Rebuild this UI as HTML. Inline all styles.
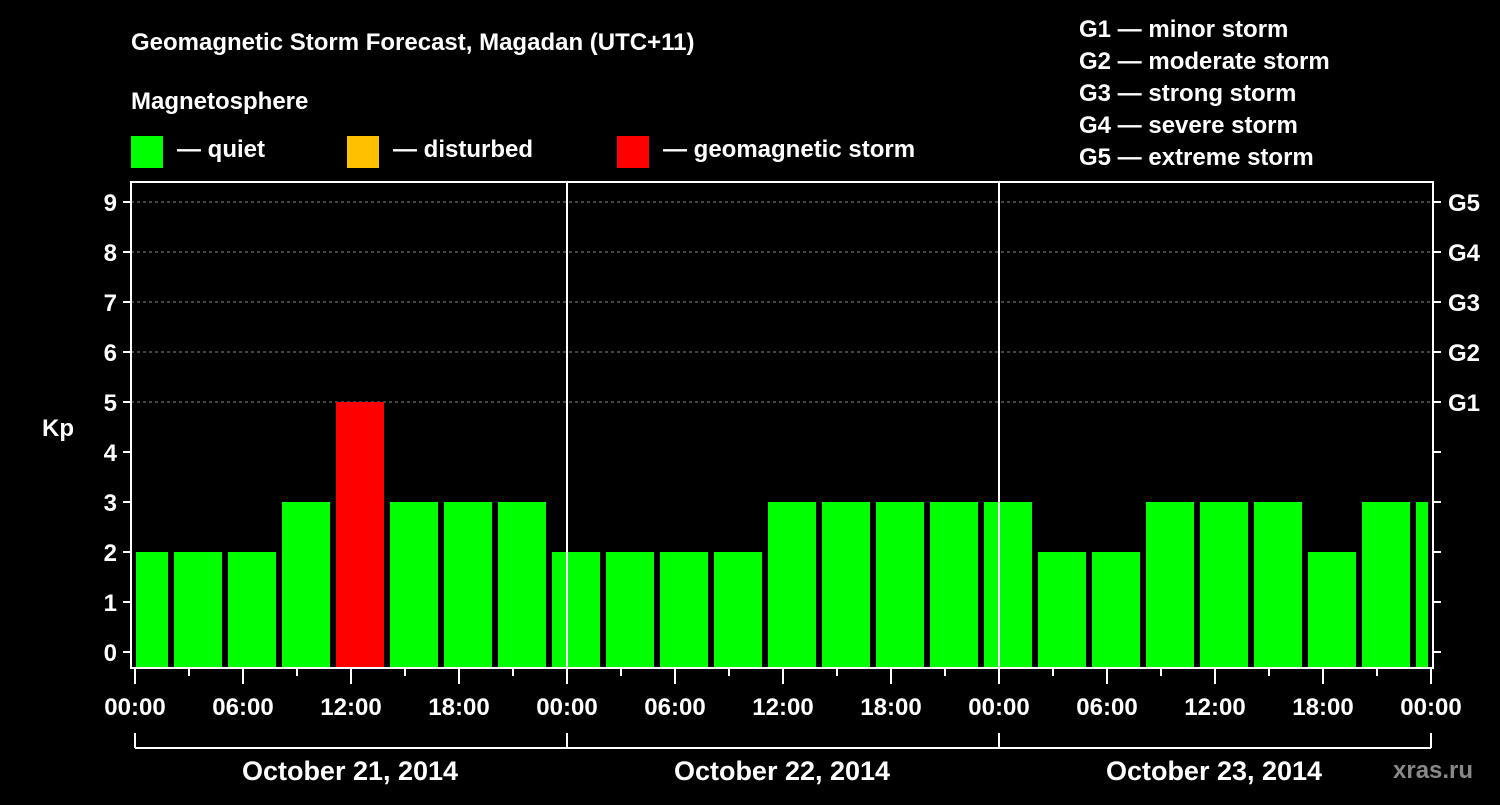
<!DOCTYPE html>
<html><head><meta charset="utf-8"><style>
body{margin:0;background:#000;width:1500px;height:800px;overflow:hidden}
svg text{font-family:"Liberation Sans",Arial,sans-serif;font-weight:bold;fill:#fff}
</style></head><body>
<svg id="c" width="1500" height="800">
<text x="131" y="50" font-size="24">Geomagnetic Storm Forecast, Magadan (UTC+11)</text>
<text x="131" y="109" font-size="24">Magnetosphere</text>
<rect x="131" y="136" width="32" height="32" fill="#00ff00"/>
<text x="177" y="157" font-size="24">— quiet</text>
<rect x="347" y="136" width="32" height="32" fill="#ffc000"/>
<text x="393" y="157" font-size="24">— disturbed</text>
<rect x="617" y="136" width="32" height="32" fill="#ff0000"/>
<text x="663" y="157" font-size="24">— geomagnetic storm</text>
<g font-size="24">
<text x="1079" y="37">G1 — minor storm</text>
<text x="1079" y="69">G2 — moderate storm</text>
<text x="1079" y="101">G3 — strong storm</text>
<text x="1079" y="133">G4 — severe storm</text>
<text x="1079" y="165">G5 — extreme storm</text>
</g>
<text x="42" y="436" font-size="24">Kp</text>
<text x="1393" y="778" font-size="24" fill="#888" style="fill:#888">xras.ru</text>
<g id="g"></g>
</svg>
<script>
const kpValues=[2,2,2,3,5,3,3,3,2,2,2,2,3,3,3,3,3,2,2,3,3,3,2,3,3];
const yTicks=[0,1,2,3,4,5,6,7,8,9];
const gLabels=["","","","","","G1","G2","G3","G4","G5"];
const xTickLabels=["00:00","06:00","12:00","18:00","00:00","06:00","12:00","18:00","00:00","06:00","12:00","18:00","00:00"];
const dayLabels=["October 21, 2014","October 22, 2014","October 23, 2014"];
const NS="http://www.w3.org/2000/svg";
const g=document.getElementById('g');
const X=h=>135+h*18; // hours -> px
const Y=v=>652-v*50;
const L=131,R=1433,T=182,B=668;
function mk(t,a,p){const e=document.createElementNS(NS,t);for(const k in a)e.setAttribute(k,a[k]);(p||g).appendChild(e);return e;}
function col(v){return v>=5?"#ff0000":v>=4?"#ffc000":"#00ff00";}
// clip
const defs=mk('defs',{});const cp=mk('clipPath',{id:'pc'},defs);mk('rect',{x:136,y:T,width:1292,height:B-T},cp);
// grid
yTicks.forEach(v=>{if(v>=5){const l=mk('line',{x1:L,x2:R,y1:Y(v),y2:Y(v),stroke:'#888','stroke-dasharray':'3,3','stroke-width':1});

}});
// bars
const bg=mk('g',{'clip-path':'url(#pc)'});
kpValues.forEach((v,i)=>{const cx=X(i*3)+9;const r=mk('rect',{x:cx-24,y:Y(v),width:48,height:B-Y(v),fill:col(v)},bg);

});
// day separators
[1,2].forEach(d=>{const l=mk('line',{x1:X(d*24),x2:X(d*24),y1:T,y2:B,stroke:'#fff','stroke-width':2});

});
// frame
const fr=mk('path',{d:`M${L} ${T}H${R}V${B}H${L}Z`,fill:'none',stroke:'#fff','stroke-width':2});


// y ticks
yTicks.forEach((v,i)=>{mk('line',{x1:L-8,x2:L,y1:Y(v),y2:Y(v),stroke:'#fff','stroke-width':2});
mk('line',{x1:R,x2:R+8,y1:Y(v),y2:Y(v),stroke:'#fff','stroke-width':2});
const t=mk('text',{x:L-14,y:Y(v)+9,'font-size':24,'text-anchor':'end'});t.textContent=v;


if(gLabels[i]){const s=mk('text',{x:R+15,y:Y(v)+9,'font-size':24});s.textContent=gLabels[i];

}});
// x ticks
for(let h=0;h<=72;h+=3){const major=h%6===0;mk('line',{x1:X(h),x2:X(h),y1:B,y2:B+(major?16:8),stroke:'#fff','stroke-width':2});}
xTickLabels.forEach((s,i)=>{const t=mk('text',{x:X(i*6),y:715,'font-size':24,'text-anchor':'middle'});t.textContent=s;

});
// day brackets
mk('line',{x1:X(0),x2:X(72),y1:748,y2:748,stroke:'#fff','stroke-width':2});
[0,1,2,3].forEach(d=>mk('line',{x1:X(d*24),x2:X(d*24),y1:733,y2:748,stroke:'#fff','stroke-width':2}));
dayLabels.forEach((s,i)=>{const t=mk('text',{x:X(i*24+12)-1,y:780,'font-size':27,'text-anchor':'middle'});t.textContent=s;

});
</script>
</body></html>
